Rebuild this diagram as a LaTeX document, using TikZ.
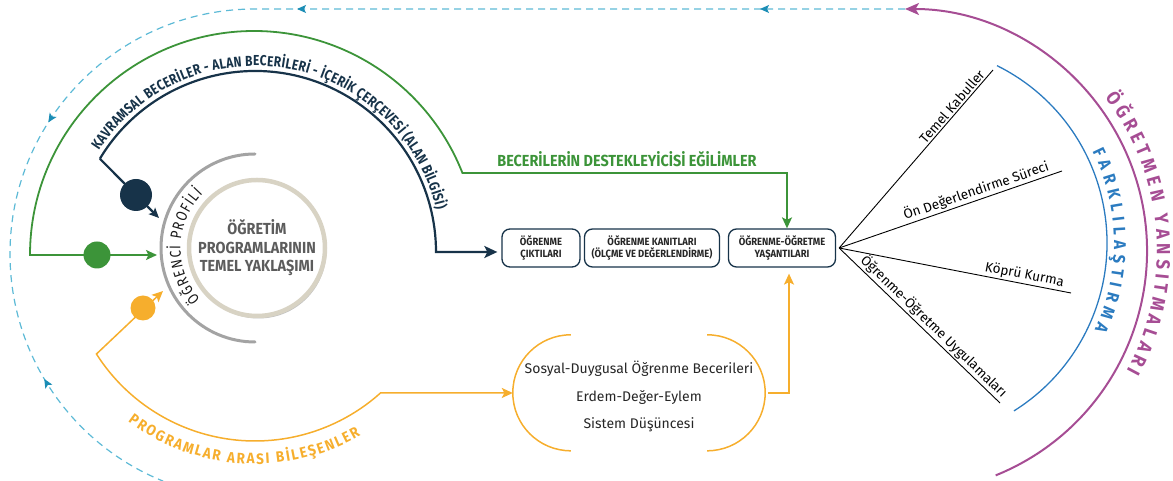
\documentclass[tikz,border=0pt]{standalone}
\usepackage{fontspec}
\setmainfont{Fira Sans}
\newfontfamily\capsfont{Fira Sans}[FakeStretch=0.9]
\newfontfamily\condfont{Fira Sans}[FakeStretch=0.82]
\usetikzlibrary{arrows.meta,decorations.text,decorations.markings,calc,shadows}
\definecolor{navy}{HTML}{173349}
\definecolor{grn}{HTML}{3C9439}
\definecolor{org}{HTML}{F6AE2D}
\definecolor{mag}{HTML}{A64D94}
\definecolor{blu}{HTML}{2B7BC0}
\definecolor{dsh}{HTML}{5DBAD6}
\definecolor{dshd}{HTML}{1B8DB5}
\definecolor{gryarc}{HTML}{A3A3A3}
\definecolor{coretxt}{HTML}{5C5C5C}
\definecolor{rim}{HTML}{D8D3C4}
\begin{document}
\begin{tikzpicture}[x=1pt,y=1pt,
  navyline/.style={draw=navy,line width=2.2pt},
  greenline/.style={draw=grn,line width=1.8pt},
  orangeline/.style={draw=org,line width=1.5pt},
  box/.style={draw=navy,line width=1.3pt,rounded corners=8pt,minimum height=38pt,align=center,inner sep=2pt,font=\capsfont\bfseries\fontsize{10.5}{12}\selectfont,text=black!85},
  spoke/.style={draw=black,line width=0.9pt},
  spoketext/.style={sloped,anchor=south east,inner sep=1.5pt,font=\fontsize{13.5}{16}\selectfont},
  dotnode/.style={circle,inner sep=0pt,minimum size=#1},
  bigtip/.tip={Stealth[length=13pt,width=12pt,inset=3pt]},
  midtip/.tip={Stealth[length=11pt,width=10pt,inset=2.5pt]},
  smalltip/.tip={Stealth[length=10pt,width=9pt,inset=2pt]},
  dashtip/.tip={Stealth[length=9pt,width=8pt,inset=2pt]},
  magtip/.tip={Stealth[length=14pt,width=12pt,inset=3.5pt]}
]
\useasboundingbox (0,0) rectangle (1173,481);

% centres
\coordinate (nC) at (255,229);
\coordinate (gC) at (254,226);
\coordinate (oC) at (255,228);
\coordinate (dC) at (255,227);
\coordinate (mC) at (905,230);
\coordinate (bC) at (909,238);
\coordinate (pC) at (255,233);

% dashed feedback loop
\coordinate (mtop) at ($(mC)+(90:242)$);
\coordinate (dtop) at ($(dC)+(90:245)$);
\draw[dsh, line width=1.2pt, dash pattern=on 7pt off 5pt,
  postaction={decorate},
  decoration={markings,
    mark=at position 145pt with {\arrow[dshd]{dashtip}},
    mark=at position 608pt with {\arrow[dshd]{dashtip}},
    mark=at position 896pt with {\arrow[dshd]{dashtip}},
    mark=at position 1166pt with {\arrowreversed[dshd]{dashtip}}}]
  (mtop) -- (dtop) arc[start angle=90,end angle=248,radius=245];

% magenta arc
\draw[mag, line width=2pt, -magtip] ($(mC)+(-68:242)$) arc[start angle=-68,end angle=90,radius=242];
\path[decorate, decoration={text along path, text align={fit to path},
  text={|\capsfont\bfseries\fontsize{19}{19}\selectfont\color{mag}|ÖĞRETMEN YANSITMALARI}}]
  ($(mC)+(37.5:252)$) arc[start angle=37.5,end angle=-28.5,radius=252];

% blue arc
\draw[blu, line width=1.3pt] ($(bC)+(63.6:198)$) arc[start angle=63.6,end angle=-58,radius=198];
\path[decorate, decoration={text along path, text align={fit to path},
  text={|\capsfont\bfseries\fontsize{17}{17}\selectfont\color{blu}|FARKLILAŞTIRMA}}]
  ($(bC)+(26.5:205)$) arc[start angle=26.5,end angle=-25,radius=205];

% core circle
\node[circle, minimum size=136pt, fill=white, draw=rim, line width=4.5pt,
  drop shadow={shadow xshift=1.5pt, shadow yshift=-2.5pt, opacity=0.4, fill=black!60}] (core) at (257,233) {};
\node[font=\capsfont\bfseries\fontsize{16}{18.5}\selectfont, text=coretxt, align=center] (coretext) at (257,233) {ÖĞRETİM\\PROGRAMLARININ\\TEMEL YAKLAŞIMI};

% grey arc + profile text
\draw[gryarc, line width=3pt, line cap=round] ($(pC)+(90:94)$) arc[start angle=90,end angle=270,radius=94];
\path[decorate, decoration={text along path, text align={fit to path},
  text={|\condfont\fontsize{15.5}{15.5}\selectfont\color{black!90}|ÖĞRENCİ PROFİLİ}}]
  ($(257,233)+(222:76.5)$) arc[start angle=222,end angle=135,radius=76.5];

% boxes
\node[box, minimum width=78pt] (b1) at (541,233) {ÖĞRENME\\ÇIKTILARI};
\node[box, minimum width=135pt] (b2) at (652,233) {ÖĞRENME KANITLARI\\(ÖLÇME VE DEĞERLENDİRME)};
\node[box, minimum width=107pt] (b3) at (782,233) {ÖĞRENME-ÖĞRETME\\YAŞANTILARI};

% navy path
\coordinate (ncorner) at ($(nC)+(149:181)$);
\draw[navyline, -bigtip, shorten >=4pt] (ncorner) arc[start angle=149,end angle=0,radius=181] -- (b1.west |- nC);
\path[decorate, decoration={text along path, text align={fit to path},
  text={|\condfont\bfseries\fontsize{14.5}{14.5}\selectfont\color{navy}|KAVRAMSAL BECERİLER - ALAN BECERİLERİ - İÇERİK ÇERÇEVESİ (ALAN BİLGİSİ)}}]
  ($(nC)+(147:186)$) arc[start angle=147,end angle=13,radius=186];
\coordinate (ndotc) at (136,286);
\coordinate (ntip) at (159,263);
\draw[navyline, -smalltip] (ncorner) -- (ndotc) -- (ntip);
\node[dotnode=32pt, fill=navy] (ndot) at (ndotc) {};

% green path
\coordinate (gleft) at ($(gC)+(180:224)$);
\coordinate (gcorner) at (787,308);
\coordinate (gtip) at (157,226);
\draw[greenline, midtip-midtip] (gtip) -- (gleft) arc[start angle=180,end angle=21.5,radius=224] -- (gcorner) -- (gcorner |- b3.north);
\node[dotnode=27pt, fill=grn] (gdot) at (97,226) {};
\node[font=\capsfont\bfseries\fontsize{16}{16}\selectfont, text=grn, anchor=base] (glabel) at (627,314) {BECERİLERİN DESTEKLEYİCİSİ EĞİLİMLER};

% yellow group
\node[minimum width=252pt, minimum height=116pt, inner sep=0pt] (yb) at (639,88) {};
\draw[orangeline] ([xshift=58pt]yb.north west) arc[start angle=90,end angle=270,radius=58];
\draw[orangeline] ([xshift=-58pt]yb.north east) arc[start angle=90,end angle=-90,radius=58];
\node[align=center, font=\fontsize{14}{27.5}\selectfont, text=black!85] (ybtext) at (639,84.5) {Sosyal-Duygusal Öğrenme Becerileri\\Erdem-Değer-Eylem\\Sistem Düşüncesi};

% orange path
\coordinate (ocorner) at ($(oC)+(212.5:188)$);
\coordinate (otip) at (163,190);
\draw[orangeline, midtip-midtip] (otip) -- (ocorner) arc[start angle=212.5,end angle=311.9,radius=188] -- (yb.west);
\node[dotnode=25pt, fill=org] (odot) at (143,173) {};
\path[decorate, decoration={text along path, text align={fit to path},
  text={|\capsfont\bfseries\fontsize{15}{15}\selectfont\color{org}|PROGRAMLAR ARASI BİLEŞENLER}}]
  ($(oC)+(233:211)$) arc[start angle=233,end angle=300,radius=211];
\coordinate (oright) at (789,88);
\draw[orangeline, -midtip, shorten <=3pt, shorten >=6pt] (yb.east) -- (oright) -- (oright |- b3.south);

% spokes
\coordinate (hub) at ($(b3.east)+(3,0)$);
\coordinate (s1) at (993,411);
\coordinate (s2) at (1062,310);
\coordinate (s3) at (1071,188);
\coordinate (s4) at (1000,78);
\draw[spoke] (hub) -- (s1) node[spoketext,pos=0.97] {Temel Kabuller};
\draw[spoke] (hub) -- (s2) node[spoketext,pos=0.96] {Ön Değerlendirme Süreci};
\draw[spoke] (hub) -- (s3) node[spoketext,pos=0.97] {Köprü Kurma};
\draw[spoke] (hub) -- (s4) node[spoketext,pos=1] {Öğrenme-Öğretme Uygulamaları};
\end{tikzpicture}
\end{document}
